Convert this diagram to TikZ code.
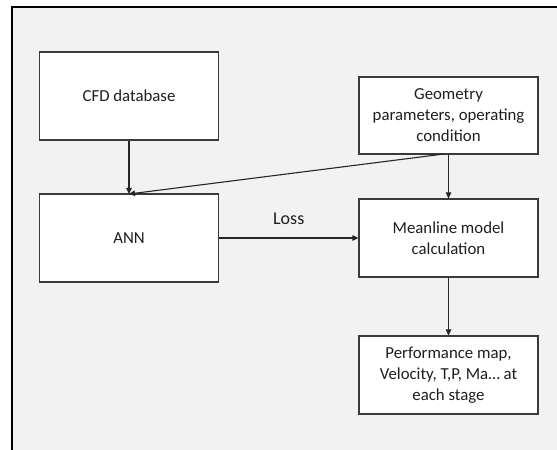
\documentclass[tikz,border=0pt]{standalone}
\usepackage{fontspec}
\setmainfont{Carlito}
\usetikzlibrary{arrows.meta}
\definecolor{bggray}{HTML}{F2F2F2}
\definecolor{linegray}{HTML}{3A3A3A}
\definecolor{txt}{HTML}{1E1E1E}
\begin{document}
\begin{tikzpicture}[x=1bp,y=-1bp,
  box/.style={draw=linegray, line width=1.2bp, fill=white, inner sep=0pt, align=center,
    font=\fontsize{16.8bp}{21bp}\selectfont, text=txt},
  conn/.style={draw=black!85, line width=1.1bp, -{Triangle[length=6bp,width=5.5bp]}}]
\useasboundingbox (0,0) rectangle (557,450);
\fill[bggray] (12,7) rectangle (557,450);
\draw[black, line width=1.4bp] (12,450) -- (12,7) -- (557,7);
\node[box, minimum width=179bp, minimum height=88bp] (cfd) at (129,96) {CFD database};
\node[box, minimum width=179bp, minimum height=77bp] (geo) at (448.5,115.5) {Geometry\\parameters, operating\\condition};
\node[box, minimum width=179bp, minimum height=88bp] (ann) at (129,238) {ANN};
\node[box, minimum width=179bp, minimum height=78bp] (mean) at (448.5,238) {Meanline model\\calculation};
\node[box, minimum width=179bp, minimum height=78bp] (perf) at (448.5,375) {Performance map,\\Velocity, T,P, Ma\ldots{} at\\each stage};
\coordinate (annin) at (129,194);
\coordinate (geoout) at (444,154);
\draw[conn] (cfd.south) -- (annin);
\draw[conn] (geoout) -- (annin);
\draw[conn] (geo.south) -- (mean.north);
\draw[conn] (ann.east) -- node[above=9bp, font=\fontsize{18bp}{21bp}\selectfont, text=txt] (loss) {Loss} (mean.west);
\draw[conn] (mean.south) -- (perf.north);
\end{tikzpicture}
\end{document}
